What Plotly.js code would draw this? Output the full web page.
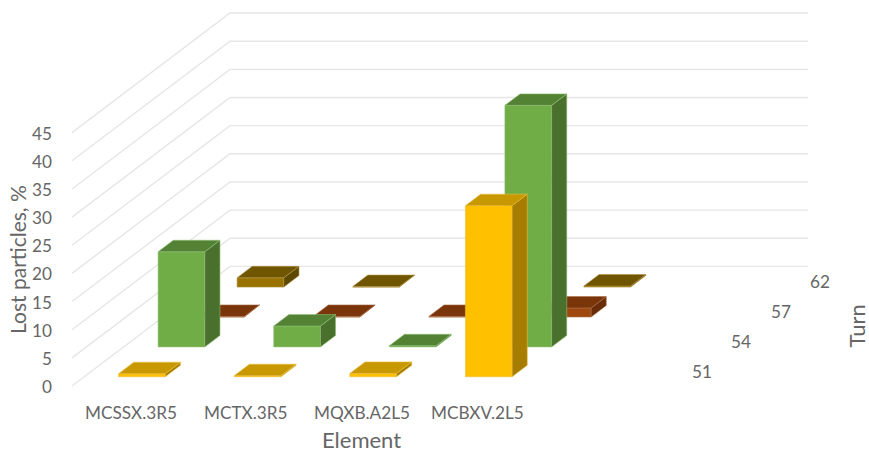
<!DOCTYPE html>
<html>
<head>
<meta charset="utf-8">
<script src="https://cdn.plot.ly/plotly-3.0.1.min.js"></script>
<style>html,body{margin:0;padding:0;background:#fff}#chart{width:869px;height:452px}</style>
</head>
<body>
<div id="chart"></div>
<script>
// Lost particles per element and turn
const elements = ["MCSSX.3R5", "MCTX.3R5", "MQXB.A2L5", "MCBXV.2L5"];
const turns = ["51", "54", "57", "62"];
const percentTicks = [0, 5, 10, 15, 20, 25, 30, 35, 40, 45];
const turn51 = [0.55, 0.2, 0.6, 30.4];
const turn54 = [16.9, 3.7, 0.2, 42.9];
const turn57 = [0.1, 0.1, 0.1, 1.6];
const turn62 = [1.65, 0.1, 0.1, 0.2];

const seriesByTurn = [turn51, turn54, turn57, turn62];
const faceColours = [
  {front: "#FFC000", top: "#C89800", side: "#A67D00", edge: "#EBC040"},
  {front: "#70AD47", top: "#548235", side: "#4A702D", edge: "#8FBF72"},
  {front: "#9E480E", top: "#7B350A", side: "#682D08", edge: "#AD7048"},
  {front: "#997300", top: "#705500", side: "#5E4700", edge: "#AE9240"}
];

// Oblique projection of the chart box: slot across, depth 0..1, value up
const slotCount = 5;
const origin = {x: 72, y: 386};
const slotWidth = 115.6;
const depthRun = {x: 158, y: -119.6};
const unitHeight = 5.63;
const barWidth = 46.7;
const barDepth = 0.096;

function project(slot, depth, value) {
  return [
    origin.x + slot * slotWidth + depth * depthRun.x,
    origin.y + depth * depthRun.y - value * unitHeight
  ];
}

function ring(points) {
  const closed = points.concat([points[0]]);
  return {x: closed.map(p => p[0]), y: closed.map(p => p[1])};
}

function faceTrace(polygons, fill, edge) {
  const xs = [], ys = [];
  polygons.forEach(poly => {
    const r = ring(poly);
    xs.push(...r.x, null);
    ys.push(...r.y, null);
  });
  return {
    type: "scatter", mode: "lines", x: xs, y: ys,
    fill: "toself", fillcolor: fill,
    line: {color: edge, width: 0.6},
    hoverinfo: "skip", showlegend: false
  };
}

const traces = [];

// Gridlines run along the side wall and across the back wall
const gridX = [], gridY = [];
percentTicks.forEach(v => {
  [project(0, 0, v), project(0, 1, v), project(slotCount, 1, v)].forEach(p => {
    gridX.push(p[0]); gridY.push(p[1]);
  });
  gridX.push(null); gridY.push(null);
});
traces.push({
  type: "scatter", mode: "lines", x: gridX, y: gridY,
  line: {color: "#E6E6E6", width: 1.4},
  hoverinfo: "skip", showlegend: false
});

// Back row first so nearer bars cover it
for (let s = turns.length - 1; s >= 0; s--) {
  const colours = faceColours[s];
  const d0 = (s + 0.5) / turns.length - barDepth / 2;
  const d1 = d0 + barDepth;
  const fronts = [], tops = [], sides = [];
  seriesByTurn[s].forEach((value, i) => {
    const a = i + 0.5 - (barWidth / slotWidth) / 2;
    const b = a + barWidth / slotWidth;
    fronts.push([project(a, d0, 0), project(b, d0, 0), project(b, d0, value), project(a, d0, value)]);
    tops.push([project(a, d0, value), project(b, d0, value), project(b, d1, value), project(a, d1, value)]);
    sides.push([project(b, d0, 0), project(b, d1, 0), project(b, d1, value), project(b, d0, value)]);
  });
  traces.push(faceTrace(fronts, colours.front, colours.edge));
  traces.push(faceTrace(sides, colours.side, colours.edge));
  traces.push(faceTrace(tops, colours.top, colours.edge));
}

const textColour = "#666666";
const tickFont = {family: "Lato, sans-serif", size: 17.2, color: textColour};
const titleFont = size => ({family: "Lato, sans-serif", size, color: textColour});
const label = (x, y, text, font, extra) => Object.assign({
  xref: "x", yref: "y", x, y, text, font, showarrow: false,
  xanchor: "center", yanchor: "middle"
}, extra || {});

const annotations = [];
percentTicks.forEach(v => {
  const p = project(0, 0, v);
  annotations.push(label(p[0] - 18, p[1] + 0.5, String(v), tickFont, {xanchor: "right"}));
});
elements.forEach((name, i) => {
  const p = project(i + 0.5, 0, 0);
  annotations.push(label(p[0] + 1, 412.5, name, tickFont));
});
turns.forEach((name, s) => {
  const p = project(slotCount, (s + 0.5) / turns.length, 0);
  annotations.push(label(p[0] + 32, p[1] + 0.5, name, tickFont));
});
annotations.push(label(17, 260, "Lost particles, %", titleFont(21), {textangle: -90}));
annotations.push(label(361, 439.5, "Element", titleFont(22)));
annotations.push(label(855.5, 326, "Turn", titleFont(22), {textangle: -90}));

const hiddenAxis = {visible: false, fixedrange: true};
const layout = {
  width: 869, height: 452,
  margin: {l: 0, r: 0, t: 0, b: 0},
  paper_bgcolor: "#FFFFFF", plot_bgcolor: "#FFFFFF",
  showlegend: false,
  xaxis: Object.assign({range: [0, 869]}, hiddenAxis),
  yaxis: Object.assign({range: [452, 0]}, hiddenAxis),
  annotations
};

Plotly.newPlot("chart", traces, layout, {displayModeBar: false, staticPlot: true});
</script>
</body>
</html>
